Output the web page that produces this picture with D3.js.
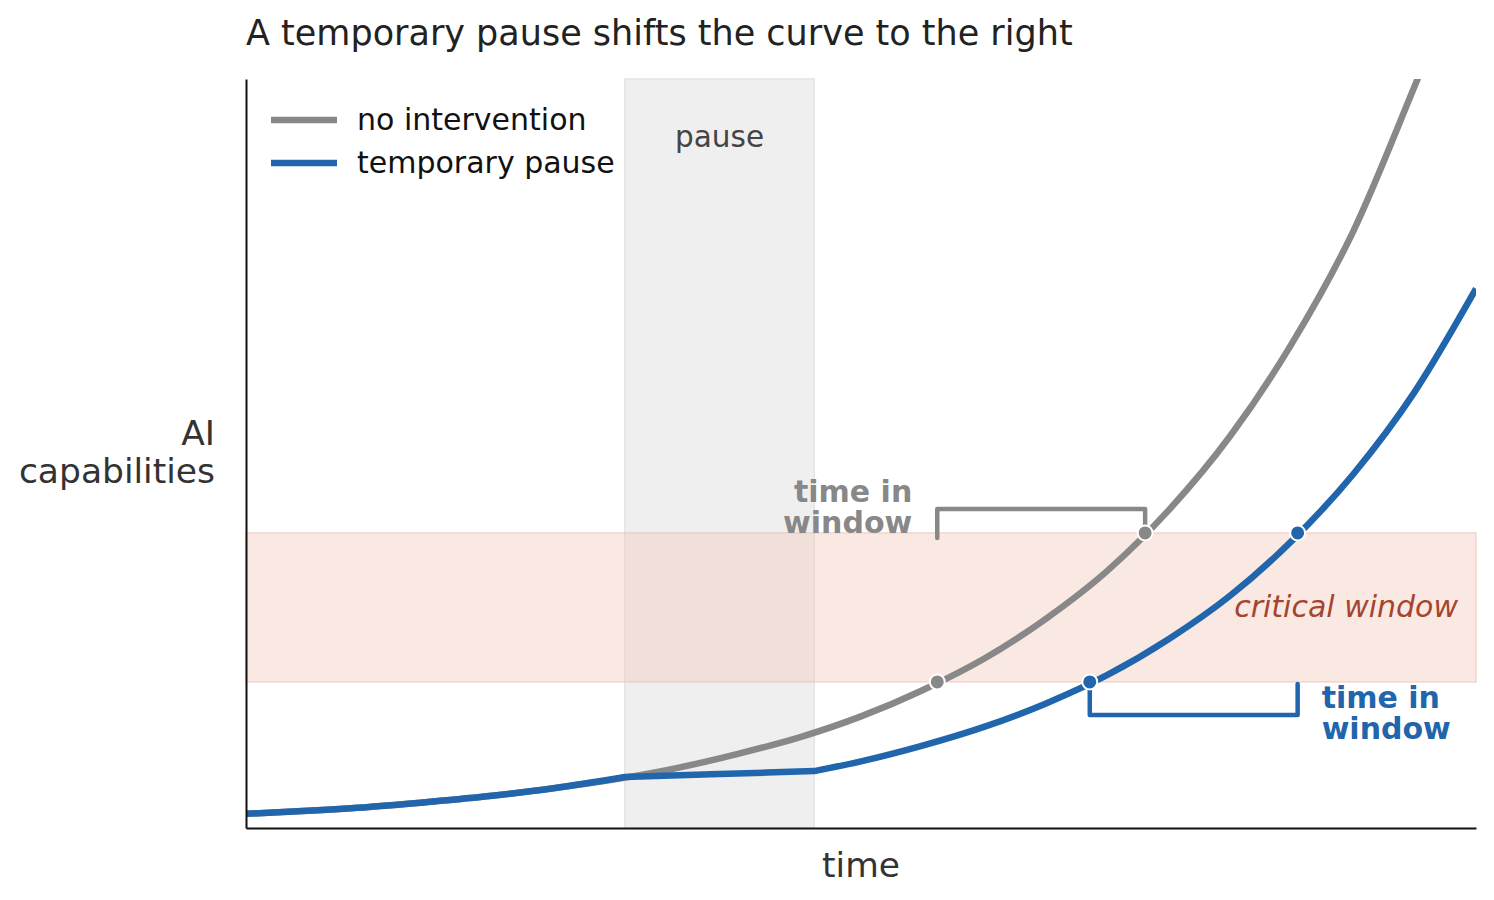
<!DOCTYPE html>
<html>
<head>
<meta charset="utf-8">
<script src="https://cdn.jsdelivr.net/npm/d3@7"></script>
<style>
  body { margin: 0; background: #fff; }
  svg { font-family: "DejaVu Sans", sans-serif; }
</style>
</head>
<body>
<div id="chart"></div>
<script>
// curves (time and capability in arbitrary 0-100 units)
const timeGray = [0, 5, 10, 15, 20, 25, 30, 35, 40, 45, 50, 55, 60, 65, 70, 75, 80, 85, 90, 95, 97];
const capGray  = [1.9, 2.3, 2.8, 3.5, 4.3, 5.3, 6.5, 8.0, 9.9, 12.1, 14.9, 18.4, 22.6, 27.9, 34.3, 42.4, 52.3, 64.6, 79.6, 99.0, 107];

const timeBlue = [0, 5, 10, 15, 20, 25, 30.8, 38.5, 46.2, 50, 55, 60, 65, 70, 75, 80, 85, 90, 95, 100];
const capBlue  = [1.9, 2.3, 2.8, 3.5, 4.3, 5.3, 6.8, 7.2, 7.6, 8.9, 11.0, 13.5, 16.6, 20.4, 25.2, 31.0, 38.3, 47.2, 58.2, 72.0];

const pauseSpan = [30.8, 46.2];
const windowSpan = [19.5, 39.4];

// where each curve enters / leaves the critical window
const grayCross = [56.2, 73.1];
const blueCross = [68.6, 85.5];

const seriesNames = ["no intervention", "temporary pause"];
const colors = ["#888888", "#2166ac"];

const margin = { top: 79, right: 18, bottom: 72, left: 246 };
const W = 1494, H = 900;
const width = W - margin.left - margin.right;
const height = H - margin.top - margin.bottom;

const svg = d3.select("#chart").append("svg")
  .attr("width", W)
  .attr("height", H);

const g = svg.append("g")
  .attr("transform", `translate(${margin.left},${margin.top})`);

const x = d3.scaleLinear().domain([0, 100]).range([0, width]);
const y = d3.scaleLinear().domain([0, 100]).range([height, 0]);

g.append("clipPath").attr("id", "plot-clip")
  .append("rect").attr("width", width).attr("height", height);

// pause band
g.append("rect")
  .attr("x", x(pauseSpan[0]))
  .attr("y", 0)
  .attr("width", x(pauseSpan[1]) - x(pauseSpan[0]))
  .attr("height", height)
  .attr("fill", "#efefef")
  .attr("stroke", "#e4e4e4")
  .attr("stroke-width", 1.5);

g.append("text")
  .attr("x", x((pauseSpan[0] + pauseSpan[1]) / 2))
  .attr("y", 68)
  .attr("text-anchor", "middle")
  .attr("font-size", 29.5)
  .attr("fill", "#444")
  .text("pause");

// critical window band
g.append("rect")
  .attr("x", 0)
  .attr("y", y(windowSpan[1]))
  .attr("width", width)
  .attr("height", y(windowSpan[0]) - y(windowSpan[1]))
  .attr("fill", "#f4c7b9")
  .attr("fill-opacity", 0.42)
  .attr("stroke", "#f0c0b3")
  .attr("stroke-opacity", 0.6)
  .attr("stroke-width", 1.5);

g.append("text")
  .attr("x", width - 18)
  .attr("y", y((windowSpan[0] + windowSpan[1]) / 2) + 10)
  .attr("text-anchor", "end")
  .attr("font-size", 30)
  .attr("font-style", "italic")
  .attr("fill", "#a3452f")
  .text("critical window");

// curves
const line = d3.line()
  .x(d => x(d[0]))
  .y(d => y(d[1]))
  .curve(d3.curveMonotoneX);

const grayData = timeGray.map((t, i) => [t, capGray[i]]);
const blueData = timeBlue.map((t, i) => [t, capBlue[i]]);

g.append("path")
  .datum(grayData)
  .attr("clip-path", "url(#plot-clip)")
  .attr("fill", "none")
  .attr("stroke", colors[0])
  .attr("stroke-width", 6.5)
  .attr("d", line);

// blue curve keeps sharp corners where the pause starts and ends
const pre = blueData.filter(d => d[0] <= pauseSpan[0]);
const mid = blueData.filter(d => d[0] >= pauseSpan[0] && d[0] <= pauseSpan[1]);
const post = blueData.filter(d => d[0] >= pauseSpan[1]);
const blueD = line(pre) + line(mid).replace(/^M/, "L") + line(post).replace(/^M/, "L");

g.append("path")
  .attr("clip-path", "url(#plot-clip)")
  .attr("fill", "none")
  .attr("stroke", colors[1])
  .attr("stroke-width", 6.5)
  .attr("stroke-linejoin", "round")
  .attr("d", blueD);

// brackets
const grayBracket = d3.path();
grayBracket.moveTo(x(grayCross[0]), y(windowSpan[1]) + 5);
grayBracket.lineTo(x(grayCross[0]), y(windowSpan[1]) - 24);
grayBracket.lineTo(x(grayCross[1]), y(windowSpan[1]) - 24);
grayBracket.lineTo(x(grayCross[1]), y(windowSpan[1]));
g.append("path")
  .attr("d", grayBracket.toString())
  .attr("fill", "none")
  .attr("stroke", colors[0])
  .attr("stroke-width", 4.5)
  .attr("stroke-linecap", "round")
  .attr("stroke-linejoin", "round");

const blueBracket = d3.path();
blueBracket.moveTo(x(blueCross[0]), y(windowSpan[0]));
blueBracket.lineTo(x(blueCross[0]), y(windowSpan[0]) + 33);
blueBracket.lineTo(x(blueCross[1]), y(windowSpan[0]) + 33);
blueBracket.lineTo(x(blueCross[1]), y(windowSpan[0]) + 2);
g.append("path")
  .attr("d", blueBracket.toString())
  .attr("fill", "none")
  .attr("stroke", colors[1])
  .attr("stroke-width", 4.5)
  .attr("stroke-linecap", "round")
  .attr("stroke-linejoin", "round");

// markers
const markers = [
  ...grayCross.map((t, i) => ({ t, v: windowSpan[i], c: colors[0] })),
  ...blueCross.map((t, i) => ({ t, v: windowSpan[i], c: colors[1] }))
];
g.selectAll("circle.marker")
  .data(markers)
  .enter()
  .append("circle")
  .attr("class", "marker")
  .attr("cx", d => x(d.t))
  .attr("cy", d => y(d.v))
  .attr("r", 7.5)
  .attr("fill", d => d.c)
  .attr("stroke", "#fff")
  .attr("stroke-width", 2);

// "time in window" labels
const grayLabel = g.append("text")
  .attr("text-anchor", "end")
  .attr("font-size", 30)
  .attr("font-weight", "bold")
  .attr("fill", colors[0]);
grayLabel.append("tspan").attr("x", x(grayCross[0]) - 25).attr("y", y(windowSpan[1]) - 31).text("time in");
grayLabel.append("tspan").attr("x", x(grayCross[0]) - 25).attr("y", y(windowSpan[1]) + 0).text("window");

const blueLabel = g.append("text")
  .attr("text-anchor", "start")
  .attr("font-size", 30)
  .attr("font-weight", "bold")
  .attr("fill", colors[1]);
blueLabel.append("tspan").attr("x", x(blueCross[1]) + 24).attr("y", y(windowSpan[0]) + 26).text("time in");
blueLabel.append("tspan").attr("x", x(blueCross[1]) + 24).attr("y", y(windowSpan[0]) + 57).text("window");

// axes (no ticks)
g.append("g")
  .attr("transform", `translate(0,${height})`)
  .call(d3.axisBottom(x).tickValues([]).tickSizeOuter(0))
  .call(a => a.select(".domain").attr("stroke", "#111").attr("stroke-width", 2));

g.append("g")
  .call(d3.axisLeft(y).tickValues([]).tickSizeOuter(0))
  .call(a => a.select(".domain").attr("stroke", "#111").attr("stroke-width", 2));

// axis labels
g.append("text")
  .attr("x", width / 2)
  .attr("y", height + 49)
  .attr("text-anchor", "middle")
  .attr("font-size", 34.5)
  .attr("fill", "#333")
  .text("time");

const yLabel = g.append("text")
  .attr("text-anchor", "end")
  .attr("font-size", 34.5)
  .attr("fill", "#333");
yLabel.append("tspan").attr("x", -31).attr("y", 366).text("AI");
yLabel.append("tspan").attr("x", -31).attr("y", 404).text("capabilities");

// title
svg.append("text")
  .attr("x", margin.left)
  .attr("y", 45)
  .attr("font-size", 35)
  .attr("fill", "#222")
  .text("A temporary pause shifts the curve to the right");

// legend
const legend = g.append("g").attr("transform", "translate(25,41)");
seriesNames.forEach((name, i) => {
  const row = legend.append("g").attr("transform", `translate(0,${i * 43})`);
  row.append("line")
    .attr("x1", 0).attr("x2", 66)
    .attr("stroke", colors[i])
    .attr("stroke-width", 6.5);
  row.append("text")
    .attr("x", 86)
    .attr("y", 10)
    .attr("font-size", 30)
    .attr("fill", "#111")
    .text(name);
});
</script>
</body>
</html>
